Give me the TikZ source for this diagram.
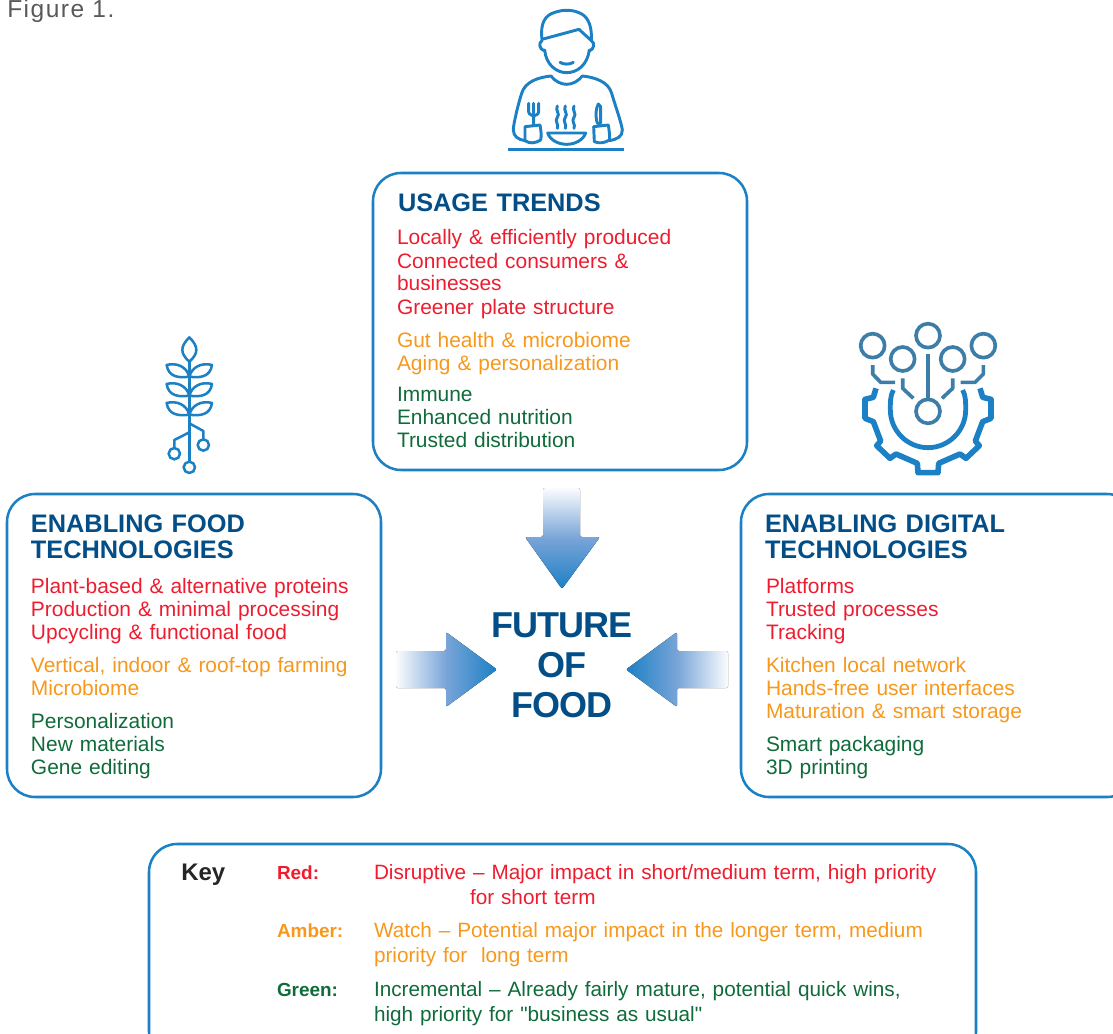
\documentclass[tikz,border=0pt]{standalone}
\usepackage{fontspec}
\setmainfont{Liberation Sans}
\newfontfamily\plainq{Liberation Sans}
\definecolor{frameblue}{HTML}{1B80C4}
\definecolor{headblue}{HTML}{034E87}
\definecolor{circuit}{HTML}{3D7EA8}
\definecolor{redt}{HTML}{ED1C2E}
\definecolor{ambert}{HTML}{F7981D}
\definecolor{greent}{HTML}{0F6B3A}
\definecolor{arrowmid}{HTML}{78A4D8}
\definecolor{arrowpale}{HTML}{FBFCFE}
\tikzset{
  framebox/.style={draw=frameblue,line width=1.9pt,rounded corners=21pt},
  blocktext/.style={anchor=base west,inner sep=0pt,outer sep=0pt,text width=300pt,align=left,font=\fontsize{15.7pt}{17.25pt}\selectfont},
  headtext/.style={anchor=base west,inner sep=0pt,outer sep=0pt,text width=300pt,align=left,text=headblue,font=\fontsize{19pt}{19.5pt}\selectfont\bfseries},
  centertext/.style={anchor=base,inner sep=0pt,outer sep=0pt,text=headblue,font=\fontsize{27pt}{30pt}\selectfont\bfseries\addfontfeature{LetterSpace=-3}},
  icon/.style={draw=frameblue,line width=2.2pt,line cap=round,line join=round,fill=none},
  plantline/.style={icon,line width=1.9pt},
  iconc/.style={draw=circuit,line width=2.75pt,line join=round,fill=none},
  keylabel/.style={anchor=base west,inner sep=0pt,outer sep=0pt,font=\fontsize{14.2pt}{17pt}\selectfont\bfseries},
  keytext/.style={anchor=base west,inner sep=0pt,outer sep=0pt,text width=500pt,align=left,font=\fontsize{15.55pt}{18.75pt}\selectfont},
}
\begin{document}
\begin{tikzpicture}[x=0.75pt,y=-0.75pt]
\useasboundingbox (0,0) rectangle (1113,1034);
\clip (0,0) rectangle (1113,1034);
% boxes
\draw[framebox] (373,173) rectangle (747,470);
\draw[framebox] (7,494) rectangle (381,797);
\draw[framebox] (741,494) rectangle (1135,797);
\draw[framebox] (149,844) rectangle (976,1060);
% arrows
\fill[top color=arrowpale,bottom color=frameblue,middle color=arrowmid,rounded corners=1.5pt]
 (543,488) -- (580,488) -- (580,537) -- (600,537) -- (562,589) -- (525,537) -- (543,537) -- cycle;
\fill[left color=arrowpale,right color=frameblue,middle color=arrowmid,rounded corners=1.5pt]
 (396,651) -- (446,651) -- (446,632) -- (497,669.5) -- (446,707) -- (446,688) -- (396,688) -- cycle;
\fill[right color=arrowpale,left color=frameblue,middle color=arrowmid,rounded corners=1.5pt]
 (728,651) -- (677,651) -- (677,632) -- (626,669.5) -- (677,707) -- (677,688) -- (728,688) -- cycle;
% centre
\node[centertext] (future) at (562,637) {FUTURE};
\node[centertext] (of) at (562,677) {OF};
\node[centertext] (food) at (562,717) {FOOD};
% figure label
\node[anchor=base west,inner sep=0pt,text=black!65,font=\fontsize{18.4pt}{20pt}\selectfont\addfontfeature{LetterSpace=6}] (figlabel) at (7,17.5) {Figure 1.};
% usage
\node[headtext] (usagehead) at (398,212) {USAGE TRENDS};
\node[blocktext,text=redt] (usagered) at (397,245) {Locally \& efficiently produced\\Connected consumers \&\\businesses\\Greener plate structure};
\node[blocktext,text=ambert] (usageamber) at (397,347) {Gut health \& microbiome\\Aging \& personalization};
\node[blocktext,text=greent] (usagegreen) at (397,401) {Immune\\Enhanced nutrition\\Trusted distribution};
% food
\node[headtext] (foodhead) at (31,532) {ENABLING FOOD\\TECHNOLOGIES};
\node[blocktext,text=redt] (foodred) at (31,593) {Plant-based \& alternative proteins\\Production \& minimal processing\\Upcycling \& functional food};
\node[blocktext,text=ambert] (foodamber) at (31,672) {Vertical, indoor \& roof-top farming\\Microbiome};
\node[blocktext,text=greent] (foodgreen) at (31,728) {Personalization\\New materials\\Gene editing};
% digital
\node[headtext] (dighead) at (765,532) {ENABLING DIGITAL\\TECHNOLOGIES};
\node[blocktext,text=redt] (digred) at (766,593) {Platforms\\Trusted processes\\Tracking};
\node[blocktext,text=ambert] (digamber) at (766,672) {Kitchen local network\\Hands-free user interfaces\\Maturation \& smart storage};
\node[blocktext,text=greent] (diggreen) at (766,751) {Smart packaging\\3D printing};
% key
\node[anchor=base west,inner sep=0pt,text=black!85,font=\fontsize{18pt}{20pt}\selectfont\bfseries] (keyhead) at (181,880) {Key};
\node[keylabel,text=redt] (keyred) at (277,879) {Red:};
\node[keylabel,text=ambert] (keyamber) at (277,937) {Amber:};
\node[keylabel,text=greent] (keygreen) at (277,996) {Green:};
\node[keytext,text=redt] (kr) at (374,879) {Disruptive – Major impact in short/medium term, high priority\\\hspace*{72pt}for short term};
\node[keytext,text=ambert] (ka) at (374,937) {Watch – Potential major impact in the longer term, medium\\priority for\ \ long term};
\node[keytext,text=greent] (kg) at (374,996) {Incremental – Already fairly mature, potential quick wins,\\high priority for {\plainq "}business as usual{\plainq "}};
% person icon
\begin{scope}[shift={(480,0)},x=0.25pt,y=-0.25pt]
 \draw[icon] (186,118) .. controls (180,70) and (195,45) .. (225,37) .. controls (250,28) and (280,28) .. (305,42) .. controls (328,55) and (336,85) .. (334,122) -- (297,88) -- cycle;
 \draw[icon] (186,122) .. controls (175,128) and (177,148) .. (194,153);
 \draw[icon] (334,122) .. controls (345,128) and (343,148) .. (328,153);
 \draw[icon] (194,150) .. controls (198,195) and (230,218) .. (260,218) .. controls (292,218) and (322,195) .. (328,150);
 \draw[icon] (240,187) .. controls (250,194) and (270,194) .. (280,187);
 \draw[icon] (134,422) .. controls (115,418) and (100,410) .. (100,390) .. controls (100,370) and (118,300) .. (125,280) .. controls (135,245) and (175,232) .. (213,228) .. controls (225,245) and (245,253) .. (260,253) .. controls (278,253) and (295,243) .. (307,228) .. controls (345,232) and (385,245) .. (395,280) .. controls (405,315) and (425,370) .. (427,390) .. controls (428,410) and (410,418) .. (388,422);
 \draw[icon] (135,380) -- (180,375) .. controls (184,395) and (184,410) .. (182,420) .. controls (165,430) and (150,432) .. (135,422) -- cycle;
 \draw[icon] (341,380) -- (385,375) .. controls (388,395) and (390,410) .. (388,420) .. controls (375,428) and (360,432) .. (343,425) -- cycle;
 \draw[icon] (146,310) -- (146,336) .. controls (146,345) and (160,345) .. (161,350) -- (161,375);
 \draw[icon] (161,310) -- (161,340);
 \draw[icon] (176,310) -- (176,336) .. controls (176,345) and (162,345) .. (161,350);
 \draw[icon] (355,312) .. controls (348,325) and (345,345) .. (352,370) -- (362,370) -- (362,320) -- cycle;
 \draw[icon] (203,399) -- (317,399) .. controls (310,420) and (285,433) .. (260,433) .. controls (235,433) and (210,420) .. (203,399) -- cycle;
 \foreach \xs in {232,256,282} {
  \draw[icon] (\xs,318) .. controls (\xs-8,330) and (\xs+10,342) .. (\xs,352) .. controls (\xs-10,362) and (\xs+6,374) .. (\xs,385);
 }
 \draw[icon,line cap=butt,line width=2.6pt] (85,449) -- (433,449);
\end{scope}
% plant icon
\begin{scope}[shift={(130,325)},x=0.25pt,y=-0.25pt]
 \draw[plantline] (178,37) .. controls (150,65) and (150,85) .. (178,110) .. controls (206,85) and (206,65) .. (178,37) -- cycle;
 \draw[plantline] (178,110) -- (178,408);
 \foreach \dy in {0,57,114} {
  \draw[plantline,shift={(0,\dy)}] (110,120) .. controls (140,112) and (170,125) .. (178,155) .. controls (145,160) and (115,155) .. (110,120) -- cycle;
  \draw[plantline,shift={(0,\dy)}] (246,120) .. controls (216,112) and (186,125) .. (178,155) .. controls (211,160) and (241,155) .. (246,120) -- cycle;
 }
 \draw[plantline] (178,322) -- (133,345) -- (133,369);
 \draw[plantline] (178,295) -- (220,318) -- (220,343);
 \draw[plantline] (133,386) circle[radius=17];
 \draw[plantline] (220,360) circle[radius=17];
 \draw[plantline] (178,427) circle[radius=17];
\end{scope}
% gear icon
\begin{scope}[shift={(840,310)},x=0.25pt,y=-0.25pt]
 \foreach \cx/\cy in {264/77,98/107,430/107,188/147,338/147,264/304} {
  \draw[iconc] (\cx,\cy) circle[radius=36];
 }
 \draw[iconc] (264,133) -- (264,270);
 \draw[iconc] (98,165) -- (98,192) -- (122,217) -- (165,217);
 \draw[iconc] (430,165) -- (430,192) -- (405,217) -- (362,217);
 \draw[iconc] (188,205) -- (188,235) -- (220,265);
 \draw[iconc] (338,205) -- (338,235) -- (306,265);
 \draw[icon,line width=3.6pt,line cap=butt] (160,240) .. controls (150,258) and (151,280) .. (151,300) .. controls (151,362) and (202,413) .. (264,413) .. controls (326,413) and (377,362) .. (377,300) .. controls (377,280) and (378,258) .. (368,240);
 \draw[icon,line width=4.2pt,line cap=butt] (108,235) -- (100,262) -- (75,268) -- (75,325) -- (100,335) -- (122,393) -- (110,407) -- (150,445) -- (168,432) -- (232,460) -- (234,488) -- (294,488) -- (296,460) -- (360,432) -- (378,445) -- (418,407) -- (406,393) -- (428,335) -- (453,325) -- (453,268) -- (428,262) -- (420,235);
\end{scope}
\end{tikzpicture}
\end{document}
